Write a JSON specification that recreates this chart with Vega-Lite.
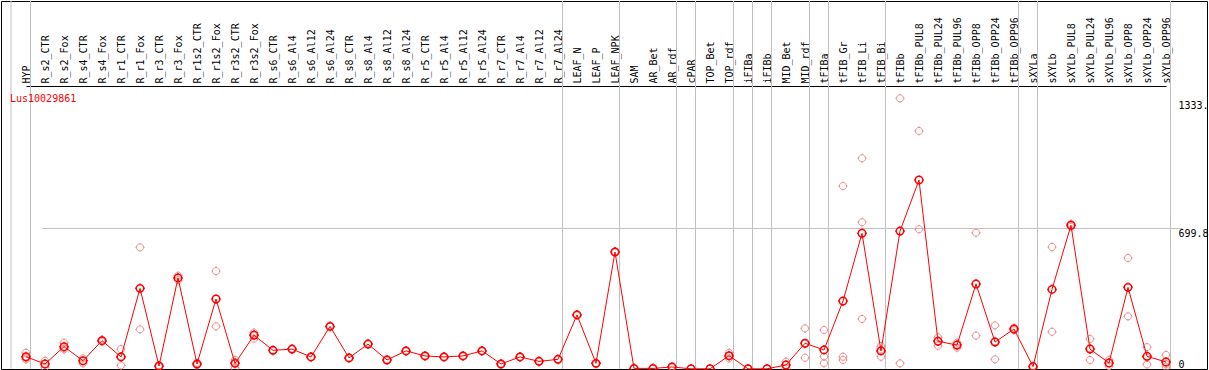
{
  "$schema": "https://vega.github.io/schema/vega-lite/v6.json",
  "width": 1206,
  "height": 368,
  "autosize": {"type": "none"},
  "padding": {"left": 1, "top": 1, "right": 2, "bottom": 1},
  "background": "white",
  "title": {"text": "Lus10029861", "anchor": "start", "frame": "group", "orient": "top", "color": "#ff0000", "font": "DejaVu Sans Mono", "fontSize": 10, "fontWeight": "normal", "offset": 0, "dx": 9, "dy": 111, "baseline": "alphabetic"},
  "config": {
    "view": {"stroke": "black", "strokeWidth": 1},
    "axis": {"labelFont": "DejaVu Sans Mono", "labelFontSize": 10, "labelColor": "black"}
  },
  "datasets": {
    "means": [
      {"sample": "HYP", "value": 61}, {"sample": "R_s2_CTR", "value": 25}, {"sample": "R_s2_Fox", "value": 111},
      {"sample": "R_s4_CTR", "value": 41}, {"sample": "R_s4_Fox", "value": 141}, {"sample": "R_r1_CTR", "value": 60},
      {"sample": "R_r1_Fox", "value": 401}, {"sample": "R_r3_CTR", "value": 15}, {"sample": "R_r3_Fox", "value": 453},
      {"sample": "R_r1s2_CTR", "value": 25}, {"sample": "R_r1s2_Fox", "value": 348}, {"sample": "R_r3s2_CTR", "value": 28},
      {"sample": "R_r3s2_Fox", "value": 168}, {"sample": "R_s6_CTR", "value": 93}, {"sample": "R_s6_Al4", "value": 99},
      {"sample": "R_s6_Al12", "value": 60}, {"sample": "R_s6_Al24", "value": 212}, {"sample": "R_s8_CTR", "value": 55},
      {"sample": "R_s8_Al4", "value": 124}, {"sample": "R_s8_Al12", "value": 45}, {"sample": "R_s8_Al24", "value": 90},
      {"sample": "R_r5_CTR", "value": 65}, {"sample": "R_r5_Al4", "value": 60}, {"sample": "R_r5_Al12", "value": 65},
      {"sample": "R_r5_Al24", "value": 90}, {"sample": "R_r7_CTR", "value": 25}, {"sample": "R_r7_Al4", "value": 60},
      {"sample": "R_r7_Al12", "value": 38}, {"sample": "R_r7_Al24", "value": 48}, {"sample": "LEAF_N", "value": 269},
      {"sample": "LEAF_P", "value": 28}, {"sample": "LEAF_NPK", "value": 582}, {"sample": "SAM", "value": 3},
      {"sample": "AR_Bet", "value": 3}, {"sample": "AR_rdf", "value": 10}, {"sample": "cPAR", "value": 1},
      {"sample": "TOP_Bet", "value": 1}, {"sample": "TOP_rdf", "value": 66}, {"sample": "iFIBa", "value": 1},
      {"sample": "iFIBb", "value": 1}, {"sample": "MID_Bet", "value": 20}, {"sample": "MID_rdf", "value": 128},
      {"sample": "tFIBa", "value": 95}, {"sample": "tFIB_Gr", "value": 338}, {"sample": "tFIB_Li", "value": 675},
      {"sample": "tFIB_Bi", "value": 90}, {"sample": "tFIBb", "value": 686}, {"sample": "tFIBb_PUL8", "value": 940},
      {"sample": "tFIBb_PUL24", "value": 138}, {"sample": "tFIBb_PUL96", "value": 119}, {"sample": "tFIBb_OPP8", "value": 423},
      {"sample": "tFIBb_OPP24", "value": 134}, {"sample": "tFIBb_OPP96", "value": 199}, {"sample": "sXYLa", "value": 12},
      {"sample": "sXYLb", "value": 396}, {"sample": "sXYLb_PUL8", "value": 715}, {"sample": "sXYLb_PUL24", "value": 99},
      {"sample": "sXYLb_PUL96", "value": 30}, {"sample": "sXYLb_OPP8", "value": 406}, {"sample": "sXYLb_OPP24", "value": 63},
      {"sample": "sXYLb_OPP96", "value": 35}
    ],
    "reps": [
      {"sample": "HYP", "value": 81}, {"sample": "HYP", "value": 55}, {"sample": "HYP", "value": 47},
      {"sample": "R_s2_CTR", "value": 41}, {"sample": "R_s2_CTR", "value": 8},
      {"sample": "R_s2_Fox", "value": 131}, {"sample": "R_s2_Fox", "value": 98}, {"sample": "R_s2_Fox", "value": 104},
      {"sample": "R_s4_CTR", "value": 53}, {"sample": "R_s4_CTR", "value": 28},
      {"sample": "R_s4_Fox", "value": 146}, {"sample": "R_s4_Fox", "value": 136},
      {"sample": "R_r1_CTR", "value": 99}, {"sample": "R_r1_CTR", "value": 18}, {"sample": "R_r1_CTR", "value": 63},
      {"sample": "R_r1_Fox", "value": 605}, {"sample": "R_r1_Fox", "value": 197},
      {"sample": "R_r3_CTR", "value": 18}, {"sample": "R_r3_CTR", "value": 12},
      {"sample": "R_r3_Fox", "value": 464}, {"sample": "R_r3_Fox", "value": 442},
      {"sample": "R_r1s2_CTR", "value": 30}, {"sample": "R_r1s2_CTR", "value": 20},
      {"sample": "R_r1s2_Fox", "value": 487}, {"sample": "R_r1s2_Fox", "value": 212},
      {"sample": "R_r3s2_CTR", "value": 45}, {"sample": "R_r3s2_CTR", "value": 5}, {"sample": "R_r3s2_CTR", "value": 34},
      {"sample": "R_r3s2_Fox", "value": 181}, {"sample": "R_r3s2_Fox", "value": 151}, {"sample": "R_r3s2_Fox", "value": 172},
      {"sample": "R_s6_CTR", "value": 95}, {"sample": "R_s6_CTR", "value": 91},
      {"sample": "R_s6_Al4", "value": 101}, {"sample": "R_s6_Al4", "value": 97},
      {"sample": "R_s6_Al12", "value": 62}, {"sample": "R_s6_Al12", "value": 58},
      {"sample": "R_s6_Al24", "value": 214}, {"sample": "R_s6_Al24", "value": 210},
      {"sample": "R_s8_CTR", "value": 57}, {"sample": "R_s8_CTR", "value": 53},
      {"sample": "R_s8_Al4", "value": 126}, {"sample": "R_s8_Al4", "value": 122},
      {"sample": "R_s8_Al12", "value": 47}, {"sample": "R_s8_Al12", "value": 43},
      {"sample": "R_s8_Al24", "value": 92}, {"sample": "R_s8_Al24", "value": 88},
      {"sample": "R_r5_CTR", "value": 67}, {"sample": "R_r5_CTR", "value": 63},
      {"sample": "R_r5_Al4", "value": 62}, {"sample": "R_r5_Al4", "value": 58},
      {"sample": "R_r5_Al12", "value": 67}, {"sample": "R_r5_Al12", "value": 63},
      {"sample": "R_r5_Al24", "value": 92}, {"sample": "R_r5_Al24", "value": 88},
      {"sample": "R_r7_CTR", "value": 27}, {"sample": "R_r7_CTR", "value": 23},
      {"sample": "R_r7_Al4", "value": 62}, {"sample": "R_r7_Al4", "value": 58},
      {"sample": "R_r7_Al12", "value": 40}, {"sample": "R_r7_Al12", "value": 36},
      {"sample": "R_r7_Al24", "value": 50}, {"sample": "R_r7_Al24", "value": 46},
      {"sample": "LEAF_N", "value": 271}, {"sample": "LEAF_N", "value": 267},
      {"sample": "LEAF_P", "value": 30}, {"sample": "LEAF_P", "value": 26},
      {"sample": "LEAF_NPK", "value": 584}, {"sample": "LEAF_NPK", "value": 580},
      {"sample": "SAM", "value": 4}, {"sample": "SAM", "value": 2},
      {"sample": "AR_Bet", "value": 4}, {"sample": "AR_Bet", "value": 2},
      {"sample": "AR_rdf", "value": 12}, {"sample": "AR_rdf", "value": 8},
      {"sample": "cPAR", "value": 1}, {"sample": "TOP_Bet", "value": 1},
      {"sample": "TOP_rdf", "value": 81}, {"sample": "TOP_rdf", "value": 53}, {"sample": "TOP_rdf", "value": 64},
      {"sample": "iFIBa", "value": 1}, {"sample": "iFIBb", "value": 1},
      {"sample": "MID_Bet", "value": 36}, {"sample": "MID_Bet", "value": 4},
      {"sample": "MID_rdf", "value": 202}, {"sample": "MID_rdf", "value": 56}, {"sample": "MID_rdf", "value": 126},
      {"sample": "tFIBa", "value": 194}, {"sample": "tFIBa", "value": 62}, {"sample": "tFIBa", "value": 29},
      {"sample": "tFIB_Gr", "value": 910}, {"sample": "tFIB_Gr", "value": 61}, {"sample": "tFIB_Gr", "value": 45},
      {"sample": "tFIB_Li", "value": 1048}, {"sample": "tFIB_Li", "value": 730}, {"sample": "tFIB_Li", "value": 249},
      {"sample": "tFIB_Bi", "value": 114}, {"sample": "tFIB_Bi", "value": 61}, {"sample": "tFIB_Bi", "value": 95},
      {"sample": "tFIBb", "value": 1346}, {"sample": "tFIBb", "value": 28},
      {"sample": "tFIBb_PUL8", "value": 1184}, {"sample": "tFIBb_PUL8", "value": 695},
      {"sample": "tFIBb_PUL24", "value": 158}, {"sample": "tFIBb_PUL24", "value": 116}, {"sample": "tFIBb_PUL24", "value": 140},
      {"sample": "tFIBb_PUL96", "value": 131}, {"sample": "tFIBb_PUL96", "value": 106}, {"sample": "tFIBb_PUL96", "value": 120},
      {"sample": "tFIBb_OPP8", "value": 678}, {"sample": "tFIBb_OPP8", "value": 166},
      {"sample": "tFIBb_OPP24", "value": 217}, {"sample": "tFIBb_OPP24", "value": 48}, {"sample": "tFIBb_OPP24", "value": 137},
      {"sample": "tFIBb_OPP96", "value": 205}, {"sample": "tFIBb_OPP96", "value": 193},
      {"sample": "sXYLa", "value": 14}, {"sample": "sXYLa", "value": 10},
      {"sample": "sXYLb", "value": 607}, {"sample": "sXYLb", "value": 185},
      {"sample": "sXYLb_PUL8", "value": 722}, {"sample": "sXYLb_PUL8", "value": 708},
      {"sample": "sXYLb_PUL24", "value": 149}, {"sample": "sXYLb_PUL24", "value": 45}, {"sample": "sXYLb_PUL24", "value": 103},
      {"sample": "sXYLb_PUL96", "value": 45}, {"sample": "sXYLb_PUL96", "value": 15},
      {"sample": "sXYLb_OPP8", "value": 552}, {"sample": "sXYLb_OPP8", "value": 262},
      {"sample": "sXYLb_OPP24", "value": 109}, {"sample": "sXYLb_OPP24", "value": 23}, {"sample": "sXYLb_OPP24", "value": 57},
      {"sample": "sXYLb_OPP96", "value": 70}, {"sample": "sXYLb_OPP96", "value": 11}, {"sample": "sXYLb_OPP96", "value": 24}
    ],
    "groupEnds": [
      {"sample": "HYP"}, {"sample": "R_r7_Al24"}, {"sample": "LEAF_NPK"}, {"sample": "AR_rdf"}, {"sample": "cPAR"},
      {"sample": "TOP_rdf"}, {"sample": "iFIBa"}, {"sample": "iFIBb"}, {"sample": "MID_rdf"}, {"sample": "tFIBa"},
      {"sample": "tFIB_Bi"}, {"sample": "tFIBb_OPP96"}, {"sample": "sXYLa"}, {"sample": "sXYLb_OPP96"}
    ],
    "groupStarts": [{"sample": "HYP"}]
  },
  "encoding": {
    "x": {
      "field": "sample",
      "type": "nominal",
      "scale": {
        "type": "point",
        "domain": ["HYP", "R_s2_CTR", "R_s2_Fox", "R_s4_CTR", "R_s4_Fox", "R_r1_CTR", "R_r1_Fox", "R_r3_CTR", "R_r3_Fox", "R_r1s2_CTR", "R_r1s2_Fox", "R_r3s2_CTR", "R_r3s2_Fox", "R_s6_CTR", "R_s6_Al4", "R_s6_Al12", "R_s6_Al24", "R_s8_CTR", "R_s8_Al4", "R_s8_Al12", "R_s8_Al24", "R_r5_CTR", "R_r5_Al4", "R_r5_Al12", "R_r5_Al24", "R_r7_CTR", "R_r7_Al4", "R_r7_Al12", "R_r7_Al24", "LEAF_N", "LEAF_P", "LEAF_NPK", "SAM", "AR_Bet", "AR_rdf", "cPAR", "TOP_Bet", "TOP_rdf", "iFIBa", "iFIBb", "MID_Bet", "MID_rdf", "tFIBa", "tFIB_Gr", "tFIB_Li", "tFIB_Bi", "tFIBb", "tFIBb_PUL8", "tFIBb_PUL24", "tFIBb_PUL96", "tFIBb_OPP8", "tFIBb_OPP24", "tFIBb_OPP96", "sXYLa", "sXYLb", "sXYLb_PUL8", "sXYLb_PUL24", "sXYLb_PUL96", "sXYLb_OPP8", "sXYLb_OPP24", "sXYLb_OPP96"],
        "range": [25, 1165],
        "padding": 0,
        "round": false
      },
      "axis": {
        "orient": "top",
        "offset": -85,
        "ticks": false,
        "domain": true,
        "domainColor": "black",
        "domainWidth": 1,
        "labelAngle": -90,
        "labelAlign": "left",
        "labelBaseline": "middle",
        "labelPadding": 3,
        "labelOverlap": false,
        "labelBound": false,
        "labelFlush": false,
        "labelLimit": 200,
        "grid": false,
        "title": null
      }
    }
  },
  "layer": [
    {
      "data": {"name": "groupStarts"},
      "mark": {"type": "rule", "color": "#c0c0c0", "strokeWidth": 1, "xOffset": -15}
    },
    {
      "data": {"name": "groupEnds"},
      "mark": {"type": "rule", "color": "#c0c0c0", "strokeWidth": 1, "xOffset": 4.5}
    },
    {
      "data": {"name": "reps"},
      "mark": {"type": "point", "shape": "M-1,0A1,1 0 1,0 1,0A1,1 0 1,0 -1,0M0,-1L0,-1.3M0,1L0,1.3M-1,0L-1.3,0M1,0L1.3,0", "filled": false, "size": 50, "color": "#f08c8c", "strokeWidth": 1, "opacity": 1},
      "encoding": {
        "y": {
          "field": "value",
          "type": "quantitative",
          "scale": {"domain": [0, 1830.3], "nice": false, "zero": true},
          "axis": {
            "orient": "right",
            "values": [0, 699.8, 1333.5],
            "format": ".1~f",
            "labelExpr": "datum.value === 1333.5 ? '1333.' : datum.label",
            "ticks": false,
            "domain": false,
            "labelAlign": "left",
            "labelPadding": -29,
            "labelBaseline": {"condition": {"test": "datum.value === 0", "value": "bottom"}, "value": "top"},
            "labelFlush": false,
            "labelOverlap": false,
            "labelBound": false,
            "grid": true,
            "gridColor": "#c0c0c0",
            "gridOpacity": {"condition": {"test": "datum.value === 699.8", "value": 1}, "value": 0},
            "title": null
          }
        }
      }
    },
    {
      "data": {"name": "means"},
      "mark": {"type": "line", "color": "#ff0000", "strokeWidth": 1},
      "encoding": {"y": {"field": "value", "type": "quantitative"}}
    },
    {
      "data": {"name": "means"},
      "mark": {"type": "point", "shape": "M-1,0A1,1 0 1,0 1,0A1,1 0 1,0 -1,0M0,-1L0,-1.3M0,1L0,1.3M-1,0L-1.3,0M1,0L1.3,0", "filled": false, "size": 56, "color": "#ff0000", "strokeWidth": 1.5, "opacity": 1},
      "encoding": {"y": {"field": "value", "type": "quantitative"}}
    }
  ]
}
